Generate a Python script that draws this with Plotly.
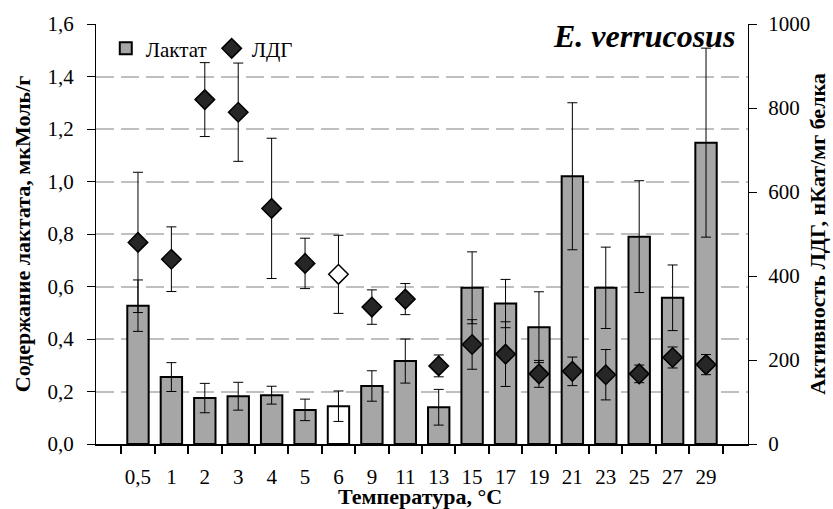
import plotly.graph_objects as go

categories = ["0,5", "1", "2", "3", "4", "5", "6", "9", "11", "13", "15", "17", "19", "21", "23", "25", "27", "29"]
lactate = [0.527, 0.255, 0.175, 0.182, 0.186, 0.130, 0.144, 0.221, 0.316, 0.140, 0.595, 0.535, 0.445, 1.020, 0.595, 0.790, 0.557, 1.148]
lactate_err = [0.098, 0.055, 0.056, 0.053, 0.034, 0.041, 0.058, 0.058, 0.084, 0.068, 0.137, 0.092, 0.135, 0.280, 0.155, 0.213, 0.125, 0.360]
ldh = [480, 440, 820, 790, 561, 430, 404, 326, 345, 186, 237, 214, 167, 173, 165, 167, 206, 189]
ldh_err = [167, 77, 88, 117, 167, 60, 93, 41, 37, 26, 59, 77, 32, 34, 60, 21, 25, 24]
highlight = "6"

FONT = "Liberation Serif"
bar_colors = ["#ffffff" if c == highlight else "#a6a6a6" for c in categories]
dia_colors = ["#ffffff" if c == highlight else "#262626" for c in categories]

fig = go.Figure()
fig.add_trace(go.Bar(
    x=categories, y=lactate, name="Лактат",
    marker=dict(color=bar_colors, line=dict(color="black", width=2)),
    error_y=dict(type="data", array=lactate_err, color="black", thickness=1, width=5),
    width=0.64, yaxis="y",
))
fig.add_trace(go.Scatter(
    x=categories, y=ldh, name="ЛДГ", mode="markers",
    marker=dict(symbol="diamond", size=15, color=dia_colors, line=dict(color="black", width=1.5)),
    error_y=dict(type="data", array=ldh_err, color="black", thickness=1, width=5),
    yaxis="y2",
))

fig.update_layout(
    width=833, height=509,
    margin=dict(l=96, r=85, t=24, b=65),
    plot_bgcolor="white", paper_bgcolor="white",
    font=dict(family=FONT, size=21, color="black"),
    separators=", ",
    showlegend=True,
    legend=dict(orientation="h", x=0.015, y=0.99, xanchor="left", yanchor="top",
                bgcolor="rgba(0,0,0,0)", font=dict(family=FONT, size=21, color="black"),
                itemwidth=30, tracegroupgap=0),
    xaxis=dict(
        type="category", showline=True, linecolor="black", linewidth=1.5, automargin=False,
        ticks="outside", tickson="boundaries", ticklen=8, tickcolor="black", tickwidth=1.5,
        tickfont=dict(family=FONT, size=21, color="black"), tickangle=0, ticklabelstandoff=13,
    ),
    yaxis=dict(
        range=[0, 1.6], tickvals=[0, 0.2, 0.4, 0.6, 0.8, 1.0, 1.2, 1.4, 1.6], tickformat=".1f",
        showline=True, linecolor="black", linewidth=1, automargin=False,
        ticks="outside", ticklen=8, tickcolor="black", ticklabelstandoff=9,
        showgrid=True, gridcolor="#bfbfbf", gridwidth=2, griddash="18px,7px",
        zeroline=False, tickfont=dict(family=FONT, size=21, color="black"),
        title=dict(text="<b>Содержание лактата, мкМоль/г</b>", font=dict(family=FONT, size=22, color="black"), standoff=10),
    ),
    yaxis2=dict(
        range=[0, 1000], tickvals=[0, 200, 400, 600, 800, 1000], tickformat="d",
        overlaying="y", side="right", automargin=False,
        showline=True, linecolor="black", linewidth=1,
        ticks="outside", ticklen=8, tickcolor="black", ticklabelstandoff=7,
        showgrid=False, zeroline=False, tickfont=dict(family=FONT, size=21, color="black"),
        title=dict(text="<b>Активность ЛДГ, нКат/мг белка</b>", font=dict(family=FONT, size=22, color="black"), standoff=0),
    ),
    annotations=[
        dict(
            text="<b><i>E. verrucosus</i></b>", xref="paper", yref="paper",
            x=0.983, y=0.972, xanchor="right", yanchor="middle", showarrow=False,
            font=dict(family=FONT, size=32, color="black"),
        ),
        dict(
            text="<b>Температура, °С</b>", xref="paper", yref="paper",
            x=0.497, y=-0.126, xanchor="center", yanchor="middle", showarrow=False,
            font=dict(family=FONT, size=22, color="black"),
        ),
    ],
)

fig.write_html("out.html")
